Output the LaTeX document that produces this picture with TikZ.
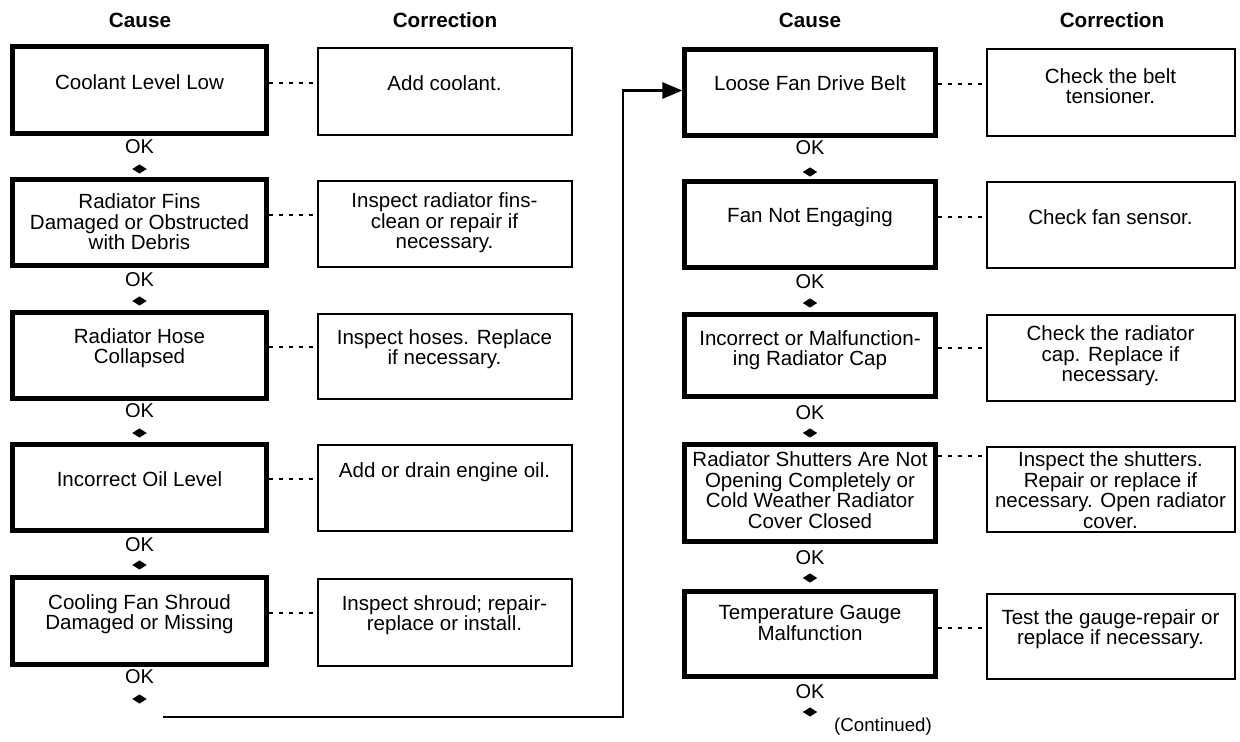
\documentclass[tikz,border=0pt]{standalone}
\usepackage{fontspec}
\setmainfont{Liberation Sans}
\usetikzlibrary{arrows.meta,shapes.geometric}
\newcommand\mkbox[6]{\node[#1,minimum width={(#5-#3-3)*0.75pt},minimum height={(#6-#4-3)*0.75pt}] (#2) at ({(#3+#5)/2},{(#4+#6)/2}) {};}
\begin{document}
\begin{tikzpicture}[x=0.75pt,y=-0.75pt,
 causebox/.style={draw,line width=3.2pt,inner sep=0pt},
 corrbox/.style={draw,line width=1.5pt,inner sep=0pt},
 txt/.style={align=center,font=\fontsize{15.4}{15.4}\selectfont,inner sep=0pt},
 hdr/.style={font=\fontsize{15.5}{18}\selectfont\bfseries,inner sep=0pt},
 oklbl/.style={font=\fontsize{15}{15}\selectfont,inner sep=0pt},
 tipmark/.style={diamond,aspect=1.6,fill,draw=none,inner sep=0pt,minimum width=11pt,minimum height=7pt},
 dotline/.style={line width=1.4pt,dash pattern=on 3pt off 4.5pt},
 flow/.style={line width=2.2pt,-{Triangle[length=15pt,width=12pt]}}]
\useasboundingbox[fill=white] (0,0) rectangle (1240,742);

% headers
\node[hdr] (h1) at (140,20) {Cause};
\node[hdr] (h2) at (445,20) {Correction};
\node[hdr] (h3) at (810,20) {Cause};
\node[hdr] (h4) at (1112,20) {Correction};

% left cause boxes
\mkbox{causebox}{l1}{11}{45}{268}{135}
\mkbox{causebox}{l2}{11}{178}{268}{267}
\mkbox{causebox}{l3}{11}{311}{268}{400}
\mkbox{causebox}{l4}{11}{443}{268}{532}
\mkbox{causebox}{l5}{11}{576}{268}{666}
% left correction boxes
\mkbox{corrbox}{c1}{316}{47}{573}{137}
\mkbox{corrbox}{c2}{316}{179}{573}{268}
\mkbox{corrbox}{c3}{316}{312}{573}{400}
\mkbox{corrbox}{c4}{316}{443}{573}{532}
\mkbox{corrbox}{c5}{316}{577}{573}{667}
% right cause boxes
\mkbox{causebox}{r1}{683}{48}{937}{137}
\mkbox{causebox}{r2}{683}{180}{937}{269}
\mkbox{causebox}{r3}{683}{313}{937}{398}
\mkbox{causebox}{r4}{683}{443}{937}{543}
\mkbox{causebox}{r5}{683}{590}{937}{678}
% right correction boxes
\mkbox{corrbox}{d1}{985}{48}{1236}{138}
\mkbox{corrbox}{d2}{985}{180}{1236}{269}
\mkbox{corrbox}{d3}{985}{313}{1236}{402}
\mkbox{corrbox}{d4}{985}{445}{1236}{533}
\mkbox{corrbox}{d5}{985}{592}{1236}{680}

% texts
\node[txt] (l1t) at (139.5,82) {Coolant Level Low};
\node[txt] (l2t) at (139.5,222) {Radiator Fins\\Damaged or Obstructed\\with Debris};
\node[txt] (l3t) at (139.5,348) {Radiator Hose\\Collapsed};
\node[txt] (l4t) at (139.5,479) {Incorrect Oil Level};
\node[txt] (l5t) at (139.5,614) {Cooling Fan Shroud\\Damaged or Missing};
\node[txt] (c1t) at (444.5,83) {Add coolant.};
\node[txt] (c2t) at (444.5,223) {Inspect radiator fins-\\clean or repair if\\necessary.};
\node[txt] (c3t) at (444.5,349) {Inspect hoses. Replace\\if necessary.};
\node[txt] (c4t) at (444.5,472) {Add or drain engine oil.};
\node[txt] (c5t) at (444.5,615) {Inspect shroud; repair-\\replace or install.};
\node[txt] (r1t) at (810,83) {Loose Fan Drive Belt};
\node[txt] (r2t) at (810,217) {Fan Not Engaging};
\node[txt] (r3t) at (810,350) {Incorrect or Malfunction-\\ing Radiator Cap};
\node[txt] (r4t) at (810,490) {Radiator Shutters Are Not\\Opening Completely or\\Cold Weather Radiator\\Cover Closed};
\node[txt] (r5t) at (810,623) {Temperature Gauge\\Malfunction};
\node[txt] (d1t) at (1110.5,86) {Check the belt\\tensioner.};
\node[txt] (d2t) at (1110.5,217) {Check fan sensor.};
\node[txt] (d3t) at (1110.5,356) {Check the radiator\\cap. Replace if\\necessary.};
\node[txt] (d4t) at (1110.5,490) {Inspect the shutters.\\Repair or replace if\\necessary. Open radiator\\cover.};
\node[txt] (d5t) at (1110.5,629) {Test the gauge-repair or\\replace if necessary.};

% dotted links
\draw[dotline] (l1.east |- 0,83) -- (c1.west |- 0,83);
\draw[dotline] (l2.east |- 0,215) -- (c2.west |- 0,215);
\draw[dotline] (l3.east |- 0,347) -- (c3.west |- 0,347);
\draw[dotline] (l4.east |- 0,479) -- (c4.west |- 0,479);
\draw[dotline] (l5.east |- 0,613) -- (c5.west |- 0,613);
\draw[dotline] (r1.east |- 0,84) -- (d1.west |- 0,84);
\draw[dotline] (r2.east |- 0,217) -- (d2.west |- 0,217);
\draw[dotline] (r3.east |- 0,348) -- (d3.west |- 0,348);
\draw[dotline] (r4.east |- 0,456) -- (d4.west |- 0,456);
\draw[dotline] (r5.east |- 0,628) -- (d5.west |- 0,628);

% OK labels and marks
\foreach \n/\yo/\yt in {1/147/169,2/280/301,3/411/433,4/545/565,5/677/699}{
  \node[oklbl] (lok\n) at (139.5,\yo) {OK};
  \node[tipmark] (ltip\n) at (139.5,\yt) {};
}
\foreach \n/\yo/\yt in {1/148/172,2/282/303,3/413/433,4/558/578,5/692/712}{
  \node[oklbl] (rok\n) at (810,\yo) {OK};
  \node[tipmark] (rtip\n) at (810,\yt) {};
}

% long flow to second column
\coordinate (fs) at (163,717);
\coordinate (fturn) at (623,717);
\draw[flow] (fs) -- (fturn) |- ([yshift=1.5pt]r1.west);

\node[txt,font=\fontsize{14}{14}\selectfont] (cont) at (883,727) {(Continued)};
\end{tikzpicture}
\end{document}
